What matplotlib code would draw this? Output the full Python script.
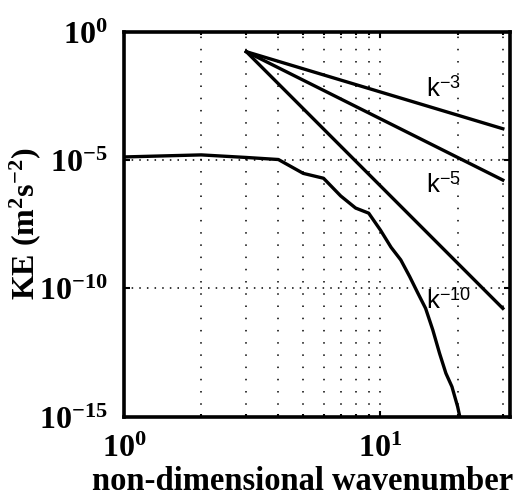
import numpy as np
import matplotlib
matplotlib.use("Agg")
import matplotlib.pyplot as plt
from matplotlib.ticker import FuncFormatter, FixedLocator

plt.rcParams['mathtext.fontset'] = 'custom'
plt.rcParams['mathtext.rm'] = 'Liberation Serif:bold'
plt.rcParams['mathtext.bf'] = 'Liberation Serif:bold'
plt.rcParams['mathtext.it'] = 'Liberation Serif:bold:italic'
plt.rcParams['mathtext.sf'] = 'Liberation Sans'

# KE spectrum, log10 values
k = np.arange(1, 22)
log_ke = [-4.88, -4.80, -4.90, -4.98, -5.52, -5.71, -6.40, -6.87, -7.07, -7.73,
          -8.40, -8.89, -9.54, -10.19, -10.78, -11.62, -12.53, -13.31, -13.83,
          -14.61, -15.60]

# reference slopes starting at k=3
k_ref = [3, 30]
ref_start = 10 ** -0.78
slopes = [-3, -5, -10]
slope_labels = [r'$\mathsf{k}^{\mathsf{-3}}$', r'$\mathsf{k}^{\mathsf{-5}}$',
                r'$\mathsf{k}^{\mathsf{-10}}$']
label_y = [10 ** -2.53, 10 ** -6.28, 10 ** -10.77]

fig = plt.figure(figsize=(5.22, 5.0), dpi=100)
ax = fig.add_axes([0.2375, 0.1666, 0.7395, 0.77])

ax.plot(k, 10.0 ** np.array(log_ke), color='black', lw=2.4)
for s in slopes:
    kr = np.array(k_ref, dtype=float)
    ax.plot(kr, ref_start * (kr / 3.0) ** s, color='black', lw=2.4)
for lab, yy in zip(slope_labels, label_y):
    ax.text(15.1, yy, lab, fontsize=18.5, ha='left', va='baseline')

ax.set_xscale('log')
ax.set_yscale('log')
ax.set_xlim(1, 32)
ax.set_ylim(1e-15, 1)

ax.xaxis.set_major_locator(FixedLocator([1, 10]))
ax.xaxis.set_minor_locator(FixedLocator([2, 3, 4, 5, 6, 7, 8, 9, 20, 30]))
ax.yaxis.set_major_locator(FixedLocator([1e-15, 1e-10, 1e-5, 1]))
ax.yaxis.set_minor_locator(FixedLocator([]))
fmt = FuncFormatter(lambda v, p: r'$\mathbf{10^{%d}}$' % round(np.log10(v)))
ax.xaxis.set_major_formatter(fmt)
ax.yaxis.set_major_formatter(fmt)
ax.xaxis.set_minor_formatter(FuncFormatter(lambda v, p: ''))

ax.grid(True, which='major', axis='y', color='black', ls=(0, (1, 4)), lw=1.1)
ax.grid(True, which='both', axis='x', color='black', ls=(0, (1, 7)), lw=1.1)

ax.tick_params(which='both', direction='in', top=True, right=True,
               labelsize=23, width=1.5)
ax.tick_params(which='major', length=4)
ax.tick_params(which='minor', length=2)
ax.tick_params(axis='x', pad=12)
ax.tick_params(axis='y', pad=12)
for sp in ax.spines.values():
    sp.set_linewidth(2.6)

ax.set_xlabel('non-dimensional wavenumber', fontsize=23.5, fontfamily='Liberation Serif',
              fontweight='bold')
ax.xaxis.set_label_coords(0.462, -0.127)
ax.set_ylabel(r'KE (m$^{\mathbf{2}}$s$^{\mathbf{-2}}$)', fontsize=23,
              fontfamily='Liberation Serif', fontweight='bold')
ax.yaxis.set_label_coords(-0.21, 0.5)

fig.savefig('out.png', dpi=100)
